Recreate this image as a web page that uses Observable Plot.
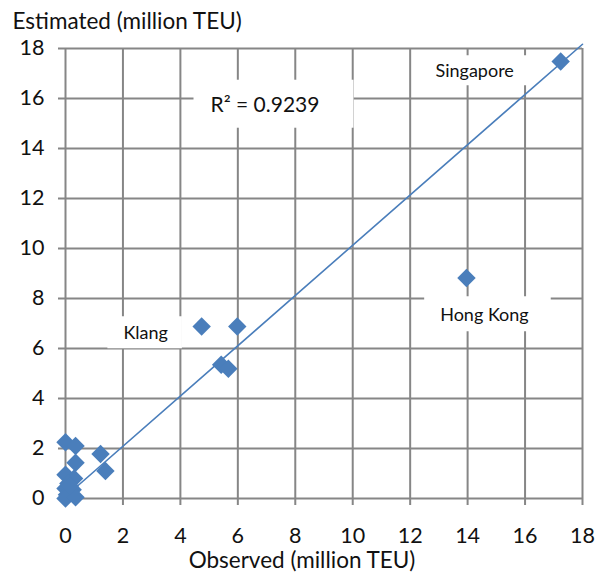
<!DOCTYPE html>
<html>
<head>
<meta charset="utf-8">
<script src="https://cdn.jsdelivr.net/npm/d3@7"></script>
<script src="https://cdn.jsdelivr.net/npm/@observablehq/plot@0.6"></script>
<style>
  html, body { margin: 0; padding: 0; background: #fff; }
</style>
</head>
<body>
<div id="chart"></div>
<script>
// Port container throughput: observed vs model-estimated (million TEU)
const portName  = ["Singapore", "Hong Kong", "Klang", "", "", "", "", "", "", "", "", "", "", "", "", "", "", "", "", ""];
const observed  = [17.24, 13.96, 4.74, 5.98, 5.42, 5.67, 1.22, 1.39, 0.00, 0.35, 0.35, 0.00, 0.30, 0.10, 0.00, 0.25, 0.05, 0.00, 0.35, 0.15];
const estimated = [17.48,  8.82, 6.88, 6.88, 5.35, 5.19, 1.78, 1.10, 2.25, 2.10, 1.43, 0.95, 0.80, 0.60, 0.40, 0.35, 0.15, 0.00, 0.05, 0.50];

// Linear trend fitted to the ports and its goodness of fit
const trendIntercept = 0.08;
const trendSlope = 1.005;
const rSquared = 0.9239;

const axisTicks = [0, 2, 4, 6, 8, 10, 12, 14, 16, 18];
const xTitle = "Observed (million TEU)";
const yTitle = "Estimated (million TEU)";

const ports = portName.map((name, i) => ({name, observed: observed[i], estimated: estimated[i]}));
const trendEnds = [0, 18].map(x => ({x, y: trendIntercept + trendSlope * x}));
const rLabel = `R² = ${rSquared.toFixed(4)}`;

const blue = "#4a7ebb";
const grid = "#868686";

const portLabel = (name, dx, dy) => Plot.text(ports.filter(d => d.name === name), {
  x: "observed", y: "estimated", text: "name",
  dx, dy, fontSize: 18, fill: "#111", textAnchor: "middle", lineAnchor: "middle"
});

const chart = Plot.plot({
  width: 602,
  height: 574,
  marginLeft: 65,
  marginRight: 20,
  marginTop: 48,
  marginBottom: 76,
  style: {fontFamily: "Lato, 'Open Sans', sans-serif", fontSize: "21.5px", color: "#111", background: "#fff"},
  x: {domain: [0, 18], ticks: axisTicks, tickSize: 0, tickPadding: 29, label: null},
  y: {domain: [0, 18], ticks: axisTicks, tickSize: 0, tickPadding: 21, label: null},
  marks: [
    // gridlines that run out past the frame as tick marks
    Plot.ruleX(axisTicks, {stroke: grid, strokeWidth: 2, insetBottom: -7}),
    Plot.ruleY(axisTicks, {stroke: grid, strokeWidth: 2, insetLeft: -7}),
    Plot.line(trendEnds, {x: "x", y: "y", stroke: blue, strokeWidth: 1.6}),
    Plot.dot(ports, {x: "observed", y: "estimated", symbol: "diamond2", r: 8.3, fill: blue, stroke: "none"}),
    Plot.text([yTitle], {frameAnchor: "top-left", text: d => d, dx: -53, dy: -27, textAnchor: "start", lineAnchor: "middle", fontSize: 22.5, fill: "#111"}),
    Plot.text([xTitle], {frameAnchor: "bottom", text: d => d, dx: -22, dy: 62, textAnchor: "middle", lineAnchor: "middle", fontSize: 22.5, fill: "#111"}),
    Plot.text([rLabel], {frameAnchor: "top-left", text: d => d, dx: 199.5, dy: 57, textAnchor: "middle", lineAnchor: "middle", fontSize: 21, fill: "#111"}),
    portLabel("Singapore", -86, 10),
    portLabel("Hong Kong", 18, 37),
    portLabel("Klang", -56, 7)
  ]
});

document.getElementById("chart").append(chart);

// White label boxes behind the annotations (covering gridlines)
const boxes = new Map([
  ["Singapore", {left: 18, right: 18, height: 30}],
  ["Hong Kong", {left: 16, right: 22, height: 35}],
  ["Klang", {left: 16, right: 14, height: 32}],
  [rLabel, {left: 17, right: 34, height: 48}]
]);
const svgNS = "http://www.w3.org/2000/svg";
for (const t of chart.querySelectorAll("text")) {
  const pad = boxes.get(t.textContent);
  if (!pad) continue;
  const b = t.getBBox();
  const cy = b.y + b.height / 2;
  const r = document.createElementNS(svgNS, "rect");
  r.setAttribute("x", b.x - pad.left);
  r.setAttribute("y", cy - pad.height / 2);
  r.setAttribute("width", b.width + pad.left + pad.right);
  r.setAttribute("height", pad.height);
  r.setAttribute("fill", "#fff");
  const tr = t.getAttribute("transform");
  if (tr) r.setAttribute("transform", tr);
  t.parentNode.insertBefore(r, t);
}
</script>
</body>
</html>
